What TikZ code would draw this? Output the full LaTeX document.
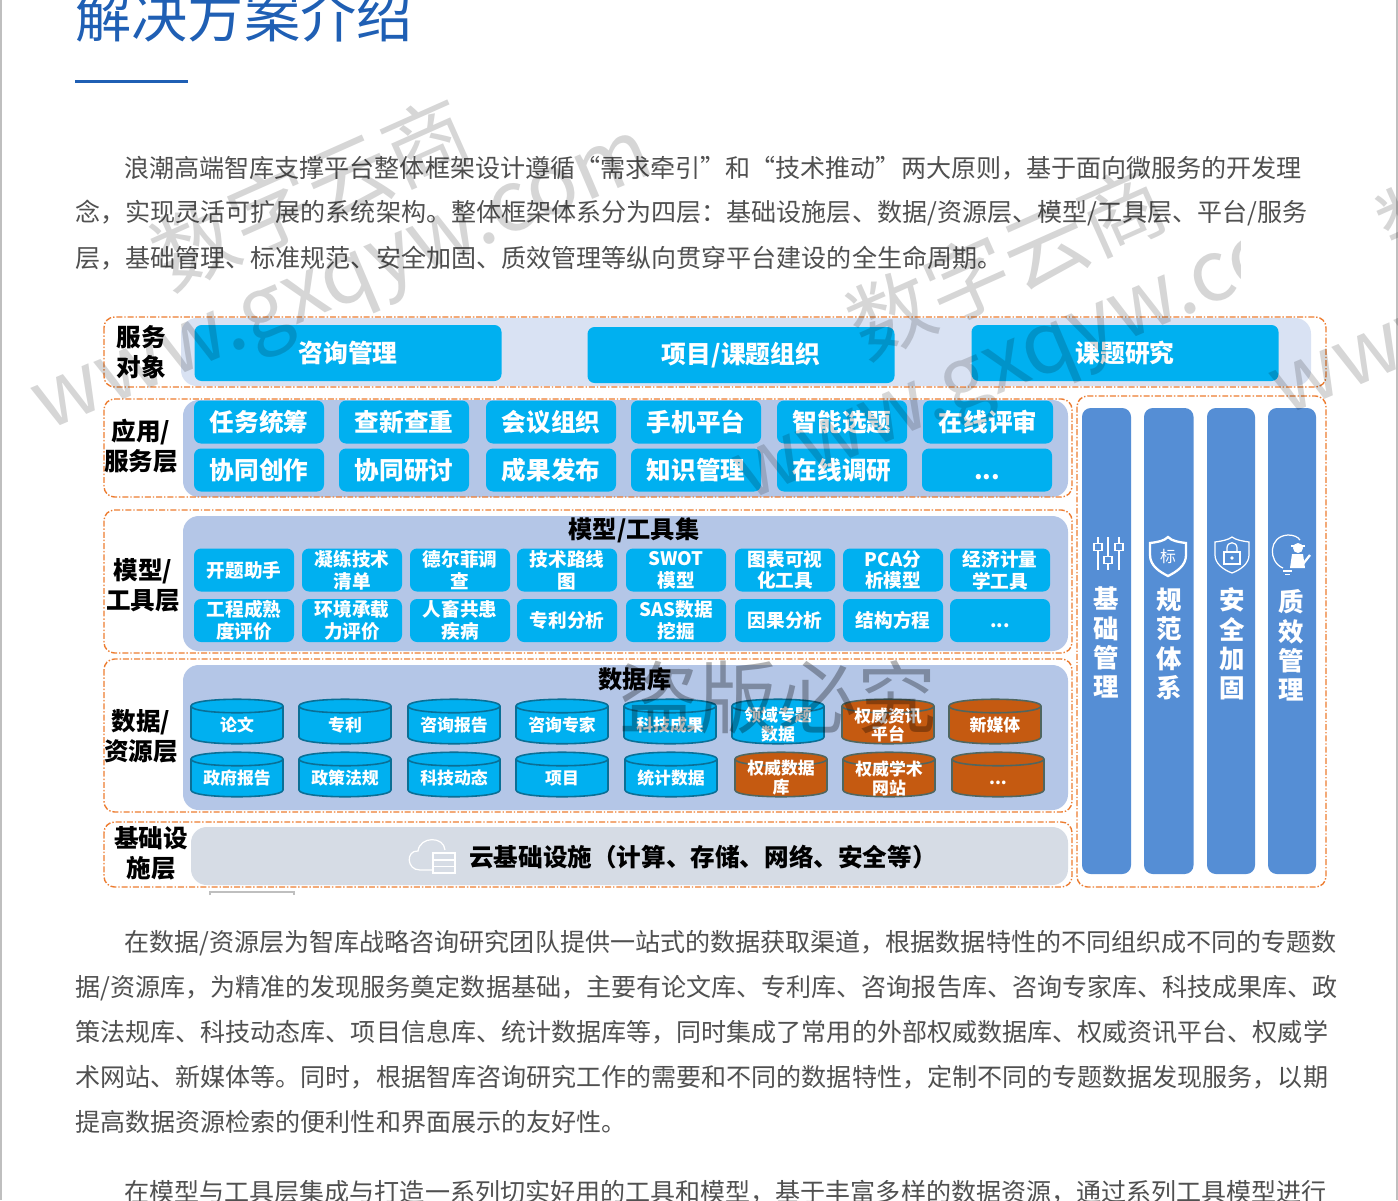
\documentclass[tikz,border=0pt]{standalone}
\usepackage{fontspec}
\setmainfont{Noto Sans CJK SC}
\definecolor{cyanbtn}{HTML}{00B0F0}
\definecolor{cyanedge}{HTML}{0A6F96}
\definecolor{rustcyl}{HTML}{C55A11}
\definecolor{rustedge}{HTML}{4F6660}
\definecolor{dashorange}{HTML}{ED7D31}
\definecolor{panelpale}{HTML}{D9E2F3}
\definecolor{panelblue}{HTML}{B4C6E7}
\definecolor{panelgrey}{HTML}{D6DCE5}
\definecolor{barblue}{HTML}{558ED5}
\definecolor{titleblue}{HTML}{1F5FB4}
\definecolor{bodygrey}{HTML}{505050}
\newcommand{\pxu}{*0.02cm}
\newcommand{\moredots}{\vphantom{字}...}
\tikzset{
	layerbox/.style={draw=dashorange,line width=0.8pt,dash pattern=on 3.4pt off 1.1pt on 0.8pt off 1.1pt,rounded corners=6pt},
	panel/.style={rounded corners=9pt},
	bigbtn/.style={fill=cyanbtn,text=white,rounded corners=4pt,inner sep=0,minimum width=307\pxu,minimum height=56\pxu,font=\fontsize{14.1}{16}\selectfont\bfseries},
	appbtn/.style={fill=cyanbtn,text=white,rounded corners=4pt,inner sep=0,minimum width=130\pxu,minimum height=43\pxu,font=\fontsize{14}{16}\selectfont\bfseries},
	toolbtn/.style={fill=cyanbtn,text=white,rounded corners=4pt,inner sep=0,align=center,minimum width=100\pxu,minimum height=43\pxu,font=\fontsize{10.6}{12.4}\selectfont\bfseries},
	layerlabel/.style={align=center,inner sep=0,text=black,font=\fontsize{14}{17}\selectfont\bfseries},
	settitle/.style={inner sep=0,text=black,font=\fontsize{13.8}{16}\selectfont\bfseries},
	barlabel/.style={inner sep=0,text=white,font=\fontsize{14.5}{16.6}\selectfont\bfseries,align=center},
	bodyline/.style={anchor=west,inner sep=0,text=bodygrey,font=\fontsize{14.26}{16}\selectfont},
	cyllabel/.style={inner sep=0,text=white,align=center,font=\fontsize{9.6}{10.8}\selectfont\bfseries},
	iconline/.style={draw=white,line width=0.7pt},
	stamp/.style={inner sep=0,text=black,text opacity=.16,font=\fontsize{48}{50}\selectfont},
}
% one database drum, corner at #2,#3
\newcommand{\dbcyl}[6]{
	\begin{scope}[shift={(#2,#3)}]
		\draw[fill=#4,draw=#5,line width=0.9pt] (0,7) -- (0,38) .. controls (0,47) and (92,47) .. (92,38) -- (92,7) .. controls (92,-2) and (0,-2) .. cycle;
		\draw[draw=#5,line width=0.9pt] (0,7) .. controls (0,16) and (92,16) .. (92,7);
		\node[cyllabel] (#1) at (46,26) {#6};
	\end{scope}
}
\begin{document}
\begin{tikzpicture}[x=0.02cm,y=-0.02cm]
	\useasboundingbox (0,0) rectangle (1398,1200);
	\clip (0,0) rectangle (1398,1200);
	\fill[white] (0,0) rectangle (1398,1200);
	\fill[gray!50] (0,0) rectangle (2,1200);
	\fill[gray!50] (1396,0) rectangle (1398,1200);
	% heading
	\node[anchor=west,inner sep=0,text=titleblue,font=\fontsize{32}{34}\selectfont] (heading) at (75,16) {解决方案介绍};
	\fill[titleblue] (75,80) rectangle (188,82.5);
	% text above
	\node[bodyline] (introa) at (124,168) {浪潮高端智库支撑平台整体框架设计遵循“需求牵引”和“技术推动”两大原则，基于面向微服务的开发理};
	\node[bodyline] (introb) at (75,213.5) {念，实现灵活可扩展的系统架构。整体框架体系分为四层：基础设施层、数据/资源层、模型/工具层、平台/服务};
	\node[bodyline] (introc) at (75,258) {层，基础管理、标准规范、安全加固、质效管理等纵向贯穿平台建设的全生命周期。};
	% panels
	\fill[panelpale,panel] (181,318) rectangle (1311,386);
	\fill[panelblue,panel] (183,400) rectangle (1068,497);
	\fill[panelblue,panel] (183,516) rectangle (1068,651);
	\fill[panelblue,panel] (183,665) rectangle (1068,810);
	\fill[panelgrey,panel] (191,827) rectangle (1068,885);
	% dashed layers
	\draw[layerbox] (104,317) rectangle (1326,387);
	\draw[layerbox] (104,399) rectangle (1072,497);
	\draw[layerbox] (104,510) rectangle (1072,653);
	\draw[layerbox] (104,659) rectangle (1072,812);
	\draw[layerbox] (104,822) rectangle (1072,887);
	\draw[layerbox] (1077,396) rectangle (1326,887);
	% layer names
	\node[layerlabel] (lblserve) at (141,352) {服务\\对象};
	\node[layerlabel] (lblapp) at (141,446) {应用/\\服务层};
	\node[layerlabel] (lbltool) at (143,585) {模型/\\工具层};
	\node[layerlabel] (lbldata) at (141,736) {数据/\\资源层};
	\node[layerlabel] (lblbase) at (151,853) {基础设\\施层};
	% service row
	\node[bigbtn] (srvconsult) at (348,353) {咨询管理};
	\node[bigbtn] (srvproject) at (741,355) {项目/课题组织};
	\node[bigbtn] (srvstudy) at (1125,353) {课题研究};
	% application rows
	\foreach \cx/\name/\word in {259/a/任务统筹,404/b/查新查重,551/c/会议组织,696/d/手机平台,842/e/智能选题,988/f/在线评审}
		\node[appbtn] (app\name) at (\cx,422) {\word};
	\foreach \cx/\name/\word in {259/a/协同创作,404/b/协同研讨,551/c/成果发布,696/d/知识管理,842/e/在线调研,987/f/\moredots}
		\node[appbtn] (appb\name) at (\cx,470) {\word};
	% tool rows
	\node[settitle] (tooltitle) at (634,530) {模型/工具集};
	\foreach \cx/\name/\word in {244/a/开题助手,352/b/{凝练技术\\清单},460/c/{德尔菲调\\查},567/d/{技术路线\\图},676/e/{SWOT\\模型},785/f/{图表可视\\化工具},893/g/{PCA分\\析模型},1000/h/{经济计量\\学工具}}
		\node[toolbtn] (tool\name) at (\cx,570) {\word};
	\foreach \cx/\name/\word in {244/a/{工程成熟\\度评价},352/b/{环境承载\\力评价},460/c/{人畜共患\\疾病},567/d/专利分析,676/e/{SAS数据\\挖掘},785/f/因果分析,893/g/结构方程,1000/h/\moredots}
		\node[toolbtn] (toolb\name) at (\cx,620.5) {\word};
	% database rows
	\node[settitle] (datatitle) at (635,679) {数据库};
	\foreach \cx/\name/\word in {191/a/论文,299/b/专利,408/c/咨询报告,516/d/咨询专家,624/e/科技成果,732/f/{领域专题\\数据}}
		\dbcyl{db\name}{\cx}{699}{cyanbtn}{cyanedge}{\word};
	\foreach \cx/\name/\word in {842/g/{权威资讯\\平台},949/h/新媒体}
		\dbcyl{db\name}{\cx}{699}{rustcyl}{rustedge}{\word};
	\foreach \cx/\name/\word in {191/a/政府报告,299/b/政策法规,408/c/科技动态,516/d/项目,625/e/统计数据}
		\dbcyl{dbb\name}{\cx}{752}{cyanbtn}{cyanedge}{\word};
	\foreach \cx/\name/\word in {735/f/{权威数据\\库},843/g/{权威学术\\网站},952/h/\moredots}
		\dbcyl{dbb\name}{\cx}{752}{rustcyl}{rustedge}{\word};
	% base row
	\node[inner sep=0,anchor=west,text=black,font=\fontsize{14}{16}\selectfont\bfseries] (baselabel) at (469,857) {云基础设施（计算、存储、网络、安全等）};
	\draw[iconline] (433,870) -- (420,870) .. controls (406,870) and (406,850) .. (418,851) .. controls (420,836) and (444,836) .. (445,850);
	\draw[iconline] (433,853) rectangle (455,873);
	\draw[iconline] (433,860) -- (455,860);
	\draw[iconline] (433,866.5) -- (455,866.5);
	% side bars
	\foreach \lx/\rx in {1082/1131,1144/1193.5,1207/1255,1268/1316}
		\fill[barblue,rounded corners=5pt] (\lx,408) rectangle (\rx,874);
	\node[barlabel] (barbase) at (1106,642.5) {基\\础\\管\\理};
	\node[barlabel] (barnorm) at (1169,644) {规\\范\\体\\系};
	\node[barlabel] (barsafe) at (1232,644) {安\\全\\加\\固};
	\node[barlabel] (barqual) at (1291,645.5) {质\\效\\管\\理};
	% icon sliders
	\foreach \ix/\iy in {1098/547,1108/560,1119/547} {
		\draw[iconline] (\ix,537) -- (\ix,570);
		\draw[iconline,fill=barblue] (\ix-4,\iy-3.5) rectangle (\ix+4,\iy+3.5);
	}
	% icon shields
	\draw[draw=white,line width=1.3pt] (1168,537) .. controls (1172,541) and (1178,542) .. (1186,543) -- (1186,555) .. controls (1186,566) and (1176,572) .. (1168,576) .. controls (1160,572) and (1150,566) .. (1150,555) -- (1150,543) .. controls (1158,542) and (1164,541) .. (1168,537) -- cycle;
	\node[inner sep=0,text=white,font=\fontsize{9}{10}\selectfont] (iconnorm) at (1168,556) {标};
	\draw[iconline] (1232,537) .. controls (1236,540) and (1242,541) .. (1249,542) -- (1249,555) .. controls (1249,564) and (1240,570) .. (1232,573) .. controls (1224,570) and (1215,564) .. (1215,555) -- (1215,542) .. controls (1222,541) and (1228,540) .. (1232,537) -- cycle;
	\draw[iconline] (1224,552) rectangle (1240,564);
	\draw[iconline] (1227,552) -- (1227,548) .. controls (1227,541) and (1237,541) .. (1237,548) -- (1237,552);
	\fill[white] (1232,558) circle (1.8);
	% icon bulb
	\draw[iconline] (1283,568) .. controls (1268,562) and (1268,536) .. (1288,535) .. controls (1294,535) and (1298,537) .. (1300,540);
	\draw[iconline] (1283,571) -- (1292,571);
	\draw[iconline] (1285,574.5) -- (1290,574.5);
	\fill[white] (1298,548) circle (5);
	\fill[white] (1291,545) -- (1305,545) -- (1305,547) -- (1291,547) -- cycle;
	\fill[white] (1290,568) -- (1292,554) -- (1303,554) -- (1305,568) -- cycle;
	\draw[draw=white,line width=1.3pt] (1303,564) -- (1310,555);
	% small mark under the chart
	\draw[gray!50,line width=0.6pt] (210,895) -- (210,892) -- (294,892) -- (294,895);
	% text below
	\node[bodyline] (dataa) at (124,943.5) {在数据/资源层为智库战略咨询研究团队提供一站式的数据获取渠道，根据数据特性的不同组织成不同的专题数};
	\node[bodyline] (datab) at (75,988.5) {据/资源库，为精准的发现服务奠定数据基础，主要有论文库、专利库、咨询报告库、咨询专家库、科技成果库、政};
	\node[bodyline] (datac) at (75,1032) {策法规库、科技动态库、项目信息库、统计数据库等，同时集成了常用的外部权威数据库、权威资讯平台、权威学};
	\node[bodyline] (datad) at (75,1077) {术网站、新媒体等。同时，根据智库咨询研究工作的需要和不同的数据特性，定制不同的专题数据发现服务，以期};
	\node[bodyline] (datae) at (75,1122) {提高数据资源检索的便利性和界面展示的友好性。};
	\node[bodyline] (toola) at (124,1192) {在模型与工具层集成与打造一系列切实好用的工具和模型，基于丰富多样的数据资源，通过系列工具模型进行};
	% watermarks
	\node[stamp,rotate=24] (stampa) at (310,193) {数字云商};
	\node[stamp,rotate=23] (urla) at (347,290) {www.gxqyw.com};
	\node[stamp,rotate=24] (stampb) at (1006,262) {数字云商};
	\begin{scope}
		\clip (500,200) rectangle (1240,600);
		\node[stamp,rotate=23] (urlb) at (1048,360) {www.gxqyw.com};
	\end{scope}
	\node[stamp,rotate=24] (stampc) at (1536,165) {数字云商};
	\node[stamp,rotate=23] (urlc) at (1585,275) {www.gxqyw.com};
	\node[stamp,text opacity=.3,font=\fontsize{45}{50}\selectfont] (stampd) at (778,697) {盗版必究};
\end{tikzpicture}
\end{document}
